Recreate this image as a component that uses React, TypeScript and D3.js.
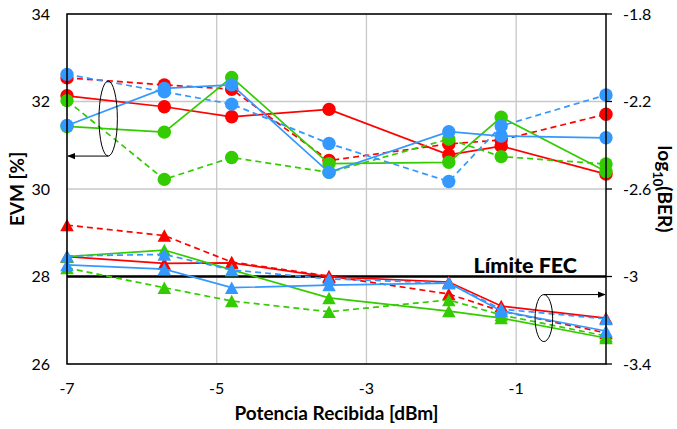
import React from "react";
import * as d3 from "d3";

// ---------- data ----------
const xValues = [-7, -5.7, -4.8, -3.5, -1.9, -1.2, 0.2];

// EVM [%] (left axis, circles)
const evmRedSolid = [32.13, 31.88, 31.65, 31.82, 30.78, 30.98, 30.34];
const evmRedDashed = [32.54, 32.38, 32.28, 30.65, 31.03, 31.12, 31.71];
const evmGreenSolid = [31.43, 31.3, 32.55, 30.58, 30.61, 31.64, 30.4];
const evmGreenDashed = [32.02, 30.22, 30.72, 30.38, 31.14, 30.74, 30.57];
const evmBlueSolid = [31.45, 32.3, 32.38, 30.38, 31.31, 31.21, 31.17];
const evmBlueDashed = [32.62, 32.22, 31.94, 31.04, 30.17, 31.44, 32.15];

// log10(BER) (right axis, triangles)
const berRedSolid = [-2.909, -2.94, -2.938, -3.002, -3.025, -3.135, -3.19];
const berRedDashed = [-2.765, -2.813, -2.934, -2.998, -3.08, -3.158, -3.258];
const berGreenSolid = [-2.909, -2.879, -2.97, -3.098, -3.158, -3.19, -3.281];
const berGreenDashed = [-2.961, -3.051, -3.112, -3.161, -3.107, -3.176, -3.272];
const berBlueSolid = [-2.947, -2.966, -3.051, -3.039, -3.03, -3.158, -3.249];
const berBlueDashed = [-2.906, -2.899, -2.97, -3.011, -3.03, -3.149, -3.194];

const xTicks = [-7, -5, -3, -1];
const evmTicks = [26, 28, 30, 32, 34];
const berTicks = [-1.8, -2.2, -2.6, -3, -3.4];
const berTickLabels = ["-1.8", "-2.2", "-2.6", "-3", "-3.4"];
const fecLevel = 28;
const fecLabel = "Límite FEC";
const xTitle = "Potencia Recibida [dBm]";
const yTitle = "EVM [%]";

const RED = "#FF0000";
const GREEN = "#33CC00";
const BLUE = "#3399FF";

const W = 677;
const H = 429;
const M = { left: 67, right: 71, top: 14, bottom: 65 };

const FONT = "Lato, 'Open Sans', sans-serif";

type Series = { values: number[]; color: string; dashed: boolean };

const evmSeries: Series[] = [
  { values: evmRedSolid, color: RED, dashed: false },
  { values: evmRedDashed, color: RED, dashed: true },
  { values: evmGreenSolid, color: GREEN, dashed: false },
  { values: evmGreenDashed, color: GREEN, dashed: true },
  { values: evmBlueSolid, color: BLUE, dashed: false },
  { values: evmBlueDashed, color: BLUE, dashed: true },
];
const berSeries: Series[] = [
  { values: berRedSolid, color: RED, dashed: false },
  { values: berRedDashed, color: RED, dashed: true },
  { values: berGreenSolid, color: GREEN, dashed: false },
  { values: berGreenDashed, color: GREEN, dashed: true },
  { values: berBlueSolid, color: BLUE, dashed: false },
  { values: berBlueDashed, color: BLUE, dashed: true },
];

export default function App() {
  const x0 = M.left;
  const x1 = W - M.right;
  const y0 = M.top;
  const y1 = H - M.bottom;

  const x = d3.scaleLinear().domain([-7, 0.2]).range([x0, x1]);
  const yL = d3.scaleLinear().domain([26, 34]).range([y1, y0]);
  const yR = d3.scaleLinear().domain([-3.4, -1.8]).range([y1, y0]);

  const lineGen = (yScale: d3.ScaleLinear<number, number>) =>
    d3
      .line<number>()
      .x((_, i) => x(xValues[i]))
      .y((d) => yScale(d));

  const triW = 13.5;
  const triH = 12.5;
  const triPath = `M0,${-triH / 2}L${triW / 2},${triH / 2}L${-triW / 2},${triH / 2}Z`;

  // annotation positions derived from scales
  const ell1 = { cx: x(-6.45), cy: yL(31.61), rx: 9.2, ry: 37.5 };
  const ell2 = { cx: x(-0.63), cy: yR(-3.19), rx: 8.8, ry: 23.5 };

  return (
    <svg width={W} height={H} style={{ position: "absolute", left: 0, top: 0, background: "#fff" }}>
      <defs>
        <marker id="arrowL" viewBox="0 0 10 10" refX="9" refY="5" markerWidth="8" markerHeight="8" orient="auto">
          <path d="M0,1L10,5L0,9Z" fill="#000" />
        </marker>
      </defs>
      <rect x={0} y={0} width={W} height={H} fill="#fff" />
      {/* gridlines */}
      {evmTicks.map((t) => (
        <line key={"gh" + t} x1={x0} x2={x1} y1={yL(t)} y2={yL(t)} stroke="#C8C8C8" strokeWidth={1.3} />
      ))}
      {xTicks.map((t) => (
        <line key={"gv" + t} x1={x(t)} x2={x(t)} y1={y0} y2={y1} stroke="#C8C8C8" strokeWidth={1.3} />
      ))}
      {/* FEC limit */}
      <line x1={x0} x2={x1} y1={yL(fecLevel)} y2={yL(fecLevel)} stroke="#000" strokeWidth={2.6} />
      <text x={x(-1.57)} y={yL(fecLevel) - 4} fontFamily={FONT} fontWeight="900" fontSize={21.5} fill="#000">
        {fecLabel}
      </text>

      {/* EVM series */}
      {evmSeries.map((s, k) => (
        <g key={"evm" + k}>
          <path
            d={lineGen(yL)(s.values) || ""}
            fill="none"
            stroke={s.color}
            strokeWidth={1.7}
            strokeDasharray={s.dashed ? "6,4" : undefined}
          />
          {s.values.map((v, i) => (
            <circle key={i} cx={x(xValues[i])} cy={yL(v)} r={6.7} fill={s.color} />
          ))}
        </g>
      ))}

      {/* BER series */}
      {berSeries.map((s, k) => (
        <g key={"ber" + k}>
          <path
            d={lineGen(yR)(s.values) || ""}
            fill="none"
            stroke={s.color}
            strokeWidth={1.7}
            strokeDasharray={s.dashed ? "6,4" : undefined}
          />
          {s.values.map((v, i) => (
            <path key={i} d={triPath} transform={`translate(${x(xValues[i])},${yR(v)})`} fill={s.color} />
          ))}
        </g>
      ))}

      {/* plot border */}
      <rect x={x0} y={y0} width={x1 - x0} height={y1 - y0} fill="none" stroke="#000" strokeWidth={1.5} />
      {/* right axis ticks */}
      {berTicks.map((t) => (
        <line key={"rt" + t} x1={x1} x2={x1 + 6} y1={yR(t)} y2={yR(t)} stroke="#000" strokeWidth={1.3} />
      ))}

      {/* left tick labels */}
      {evmTicks.map((t) => (
        <text key={"lt" + t} x={x0 - 17} y={yL(t)} dy="0.35em" textAnchor="end" fontFamily={FONT} fontSize={16} fill="#000">
          {t}
        </text>
      ))}
      {/* right tick labels */}
      {berTicks.map((t, i) => (
        <text key={"rl" + t} x={x1 + 17} y={yR(t)} dy="0.35em" textAnchor="start" fontFamily={FONT} fontSize={16} fill="#000">
          {berTickLabels[i]}
        </text>
      ))}
      {/* bottom tick labels */}
      {xTicks.map((t) => (
        <text key={"bt" + t} x={x(t)} y={y1 + 24} dy="0.35em" textAnchor="middle" fontFamily={FONT} fontSize={16} fill="#000">
          {String(t)}
        </text>
      ))}

      {/* axis titles */}
      <text x={(x0 + x1) / 2} y={y1 + 56} textAnchor="middle" fontFamily={FONT} fontWeight="bold" fontSize={19} fill="#000">
        {xTitle}
      </text>
      <text
        transform={`translate(${17},${(y0 + y1) / 2}) rotate(-90)`}
        dy="0.35em"
        textAnchor="middle"
        fontFamily={FONT}
        fontWeight="bold"
        fontSize={19}
        fill="#000"
      >
        {yTitle}
      </text>
      <text
        transform={`translate(${665},${(y0 + y1) / 2}) rotate(90)`}
        dy="0.35em"
        textAnchor="middle"
        fontFamily={FONT}
        fontWeight="bold"
        fontSize={19}
        fill="#000"
      >
        log
        <tspan fontSize={13} dy="5">10</tspan>
        <tspan dy="-5">(BER)</tspan>
      </text>

      {/* annotations */}
      <ellipse cx={ell1.cx} cy={ell1.cy} rx={ell1.rx} ry={ell1.ry} fill="none" stroke="#000" strokeWidth={1} />
      <line
        x1={ell1.cx}
        x2={x0 + 1}
        y1={ell1.cy + ell1.ry}
        y2={ell1.cy + ell1.ry}
        stroke="#000"
        strokeWidth={1}
        markerEnd="url(#arrowL)"
      />
      <ellipse cx={ell2.cx} cy={ell2.cy} rx={ell2.rx} ry={ell2.ry} fill="none" stroke="#000" strokeWidth={1} />
      <line
        x1={ell2.cx}
        x2={x1 - 1}
        y1={ell2.cy - ell2.ry}
        y2={ell2.cy - ell2.ry}
        stroke="#000"
        strokeWidth={1}
        markerEnd="url(#arrowL)"
      />
    </svg>
  );
}
